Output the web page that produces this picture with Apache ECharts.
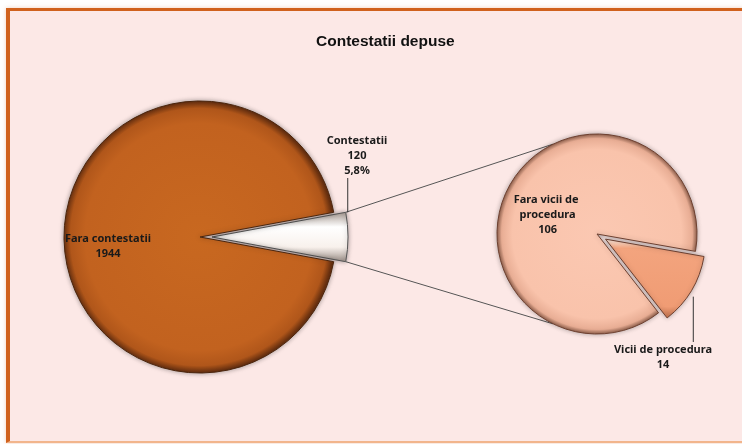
<!DOCTYPE html>
<html>
<head>
<meta charset="utf-8">
<script src="https://cdn.jsdelivr.net/npm/echarts@6/dist/echarts.min.js"></script>
<style>
  html, body { margin: 0; padding: 0; background: #ffffff; }
  #frame {
    position: absolute; left: 6px; top: 8px; width: 760px; height: 435px;
    box-sizing: border-box;
    border-left: 4px solid #D0611D; border-top: 3px solid #D0611D;
    border-bottom: 2px solid #F2B58C;
    background: #FCE8E6;
    box-shadow: 0 0 4px rgba(230, 160, 120, 0.5);
  }
  #container { position: absolute; left: 0; top: 0; width: 742px; height: 444px; }
</style>
</head>
<body>
<div id="frame"></div>
<div id="container"></div>
<script>
// main pie
var mainNames = ['Contestatii', 'Fara contestatii'];
var mainValues = [120, 1944];
// second pie (split of "Contestatii")
var subNames = ['Vicii de procedura', 'Fara vicii de procedura'];
var subValues = [14, 106];

var mainCenter = [200, 237], mainR = 136, mainOff = 12;
var subCenter = [597, 234], subR = 100, subOff = 10;

var mainTotal = mainValues[0] + mainValues[1];
var halfA = mainValues[0] / mainTotal * Math.PI; // half angle of the exploded slice
var subStart = -10;

function pct(v) {
  return (v / mainTotal * 100).toFixed(1).replace('.', ',') + '%';
}

// connector lines from the exploded slice to the second pie
var cornerX = mainCenter[0] + mainOff + mainR * Math.cos(halfA);
var topY = mainCenter[1] - mainR * Math.sin(halfA);
var botY = mainCenter[1] + mainR * Math.sin(halfA);
var tA = 116 * Math.PI / 180;
var subTop = [subCenter[0] + subR * Math.cos(tA), subCenter[1] - subR * Math.sin(tA)];
var subBot = [subCenter[0] + subR * Math.cos(tA), subCenter[1] + subR * Math.sin(tA)];

// leader line of the small slice of the second pie (at its middle angle)
var subTotal = subValues[0] + subValues[1];
var midA = (subStart - subValues[0] / subTotal * 180) * Math.PI / 180;
var sx = subCenter[0] + subOff * Math.cos(midA) + subR * Math.cos(midA) + 2;
var sy = subCenter[1] - subOff * Math.sin(midA) - subR * Math.sin(midA) + 6;

var labelFont = {
  fontFamily: 'Noto Sans', fontWeight: 'bold', fontSize: 11,
  lineHeight: 15, color: '#1a1a1a'
};

function seg(x1, y1, x2, y2, c) {
  return { type: 'line', silent: true, z: 0,
    shape: { x1: x1, y1: y1, x2: x2, y2: y2 },
    style: { stroke: c, lineWidth: 1 } };
}

var dom = document.getElementById('container');
var myChart = echarts.init(dom, null, { renderer: 'canvas' });

var option = {
  animation: false,
  title: {
    text: 'Contestatii depuse',
    left: 311,
    top: 29,
    textStyle: { fontFamily: 'Liberation Sans', fontSize: 15.5, fontWeight: 'bold', color: '#111' }
  },
  graphic: [
    seg(cornerX, topY, subTop[0], subTop[1], '#555'),
    seg(cornerX, botY, subBot[0], subBot[1], '#555'),
    seg(cornerX + 2, topY, cornerX + 2, 178, '#333'),
    seg(sx, sy, sx, 342, '#333')
  ],
  series: [
    {
      type: 'pie',
      center: mainCenter,
      radius: mainR,
      startAngle: halfA * 180 / Math.PI,
      selectedMode: 'multiple',
      selectedOffset: mainOff,
      avoidLabelOverlap: false,
      emphasis: { disabled: true },
      z: 2,
      itemStyle: {
        borderColor: '#4a240c', borderWidth: 1,
        shadowBlur: 5, shadowColor: 'rgba(0,0,0,0.35)'
      },
      labelLine: { show: false },
      label: labelFont,
      data: [
        {
          name: mainNames[0], value: mainValues[0], selected: true,
          itemStyle: {
            borderColor: '#555',
            color: { type: 'linear', x: 0, y: 0, x2: 0, y2: 1, colorStops: [
              { offset: 0, color: '#a89a92' }, { offset: 0.3, color: '#ffffff' },
              { offset: 0.7, color: '#f8f1ec' }, { offset: 1, color: '#9c8f88' }] }
          },
          label: {
            show: true, position: 'inside',
            formatter: function (p) { return p.name + '\n' + p.value + '\n' + pct(p.value); }
          }
        },
        {
          name: mainNames[1], value: mainValues[1],
          itemStyle: {
            color: { type: 'radial', x: 0.5, y: 0.5, r: 0.5, colorStops: [
              { offset: 0, color: '#C86820' }, { offset: 0.84, color: '#C2621F' },
              { offset: 0.95, color: '#B0561A' }, { offset: 1, color: '#6a3110' }] }
          },
          label: { show: true, position: 'inside', formatter: '{b}\n{c}' }
        }
      ],
      labelLayout: function (p) {
        if (p.dataIndex === 0) return { dx: 74, dy: -81 };
        return { dx: -21, dy: 9 };
      }
    },
    {
      type: 'pie',
      center: subCenter,
      radius: subR,
      startAngle: subStart,
      selectedMode: 'multiple',
      selectedOffset: subOff,
      avoidLabelOverlap: false,
      emphasis: { disabled: true },
      z: 2,
      itemStyle: {
        borderColor: '#6e4030', borderWidth: 1,
        shadowBlur: 5, shadowColor: 'rgba(0,0,0,0.3)'
      },
      labelLine: { show: false },
      label: labelFont,
      data: [
        {
          name: subNames[0], value: subValues[0], selected: true,
          itemStyle: {
            color: { type: 'linear', x: 0, y: 0, x2: 0, y2: 1, colorStops: [
              { offset: 0, color: '#fff0e6' }, { offset: 0.12, color: '#F3A47E' },
              { offset: 0.85, color: '#F09C74' }, { offset: 1, color: '#c0704c' }] }
          },
          label: { show: true, position: 'inside', formatter: '{b}\n{c}' }
        },
        {
          name: subNames[1], value: subValues[1],
          itemStyle: {
            color: { type: 'radial', x: 0.5, y: 0.5, r: 0.5, colorStops: [
              { offset: 0, color: '#FBC8B2' }, { offset: 0.84, color: '#F9C3AB' },
              { offset: 0.95, color: '#E8AD94' }, { offset: 1, color: '#8a5a46' }] }
          },
          label: { show: true, position: 'inside', formatter: '{b}\n{c}', width: 80, overflow: 'break' }
        }
      ],
      labelLayout: function (p) {
        if (p.dataIndex === 0) return { dx: 12, dy: 91 };
        return { dx: -4, dy: 8 };
      }
    }
  ]
};

myChart.setOption(option);
</script>
</body>
</html>
